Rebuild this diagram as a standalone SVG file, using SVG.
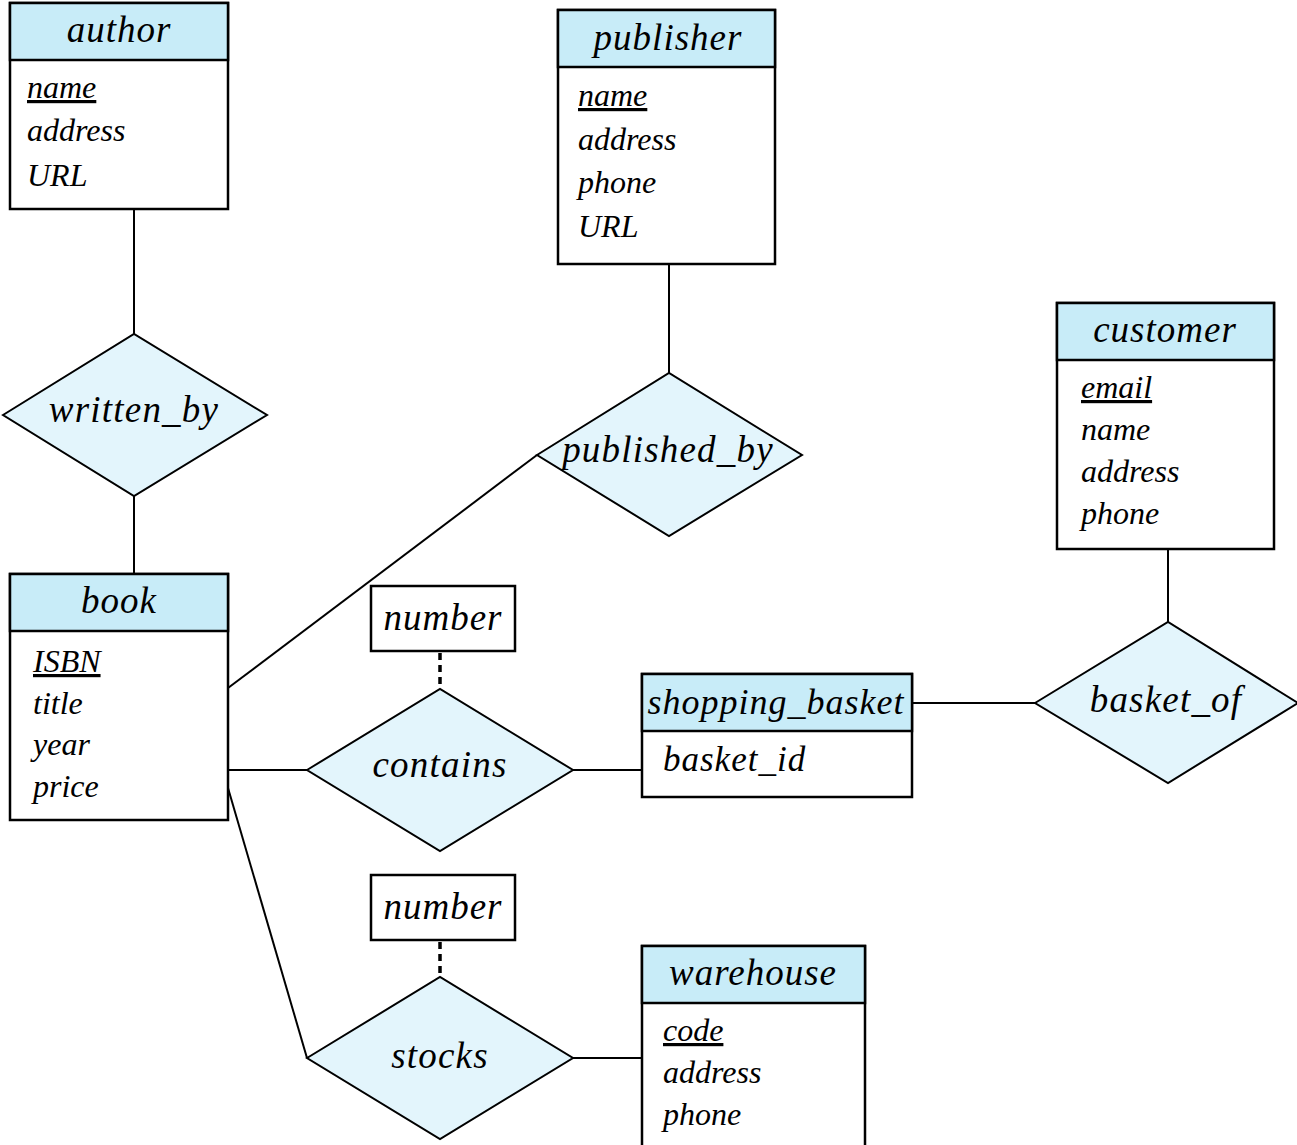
<svg xmlns="http://www.w3.org/2000/svg" width="1297" height="1145" viewBox="0 0 1297 1145">
<style>
text{font-family:"Liberation Serif","DejaVu Serif",serif;font-style:italic;fill:#000}
.hd{font-size:37px;letter-spacing:1px;text-anchor:middle}
.at{font-size:32px}
.rl{font-size:37px;letter-spacing:1.2px;text-anchor:middle}
.box{fill:#fff;stroke:#000;stroke-width:2.5}
.hdr{fill:#c8ecf8;stroke:#000;stroke-width:2.5}
.dia{fill:#e3f5fc;stroke:#000;stroke-width:2}
.ln{stroke:#000;stroke-width:2;fill:none}
.dot{stroke:#000;stroke-width:3.5;stroke-dasharray:7 5;fill:none}
.u{text-decoration:underline}
</style>
<rect width="1297" height="1145" fill="#fff"/>
<g id="connectors">
<line class="ln" x1="134" y1="209" x2="134" y2="334"/>
<line class="ln" x1="134" y1="496" x2="134" y2="574"/>
<line class="ln" x1="669" y1="264" x2="669" y2="373"/>
<line class="ln" x1="228" y1="688" x2="537" y2="455"/>
<line class="ln" x1="228" y1="770" x2="307" y2="770"/>
<line class="ln" x1="573" y1="770" x2="642" y2="770"/>
<line class="ln" x1="912" y1="703" x2="1035" y2="703"/>
<line class="ln" x1="1168" y1="549" x2="1168" y2="622"/>
<line class="ln" x1="228" y1="788" x2="307" y2="1058"/>
<line class="ln" x1="573" y1="1058" x2="642" y2="1058"/>
<line class="dot" x1="440" y1="653" x2="440" y2="689"/>
<line class="dot" x1="440" y1="942" x2="440" y2="977"/>
</g>
<g id="author">
<rect class="box" x="10" y="3" width="218" height="206"/>
<rect class="hdr" x="10" y="3" width="218" height="57"/>
<text class="hd" x="119" y="42">author</text>
<text class="at u" x="27" y="98">name</text>
<text class="at" x="27" y="141">address</text>
<text class="at" x="27" y="186">URL</text>
</g>
<g id="publisher">
<rect class="box" x="558" y="10" width="217" height="254"/>
<rect class="hdr" x="558" y="10" width="217" height="57"/>
<text class="hd" x="668" y="50">publisher</text>
<text class="at u" x="578" y="106">name</text>
<text class="at" x="578" y="150">address</text>
<text class="at" x="578" y="193">phone</text>
<text class="at" x="578" y="237">URL</text>
</g>
<g id="customer">
<rect class="box" x="1057" y="303" width="217" height="246"/>
<rect class="hdr" x="1057" y="303" width="217" height="57"/>
<text class="hd" x="1165" y="342">customer</text>
<text class="at u" x="1081" y="398">email</text>
<text class="at" x="1081" y="440">name</text>
<text class="at" x="1081" y="482">address</text>
<text class="at" x="1081" y="524">phone</text>
</g>
<g id="book">
<rect class="box" x="10" y="574" width="218" height="246"/>
<rect class="hdr" x="10" y="574" width="218" height="57"/>
<text class="hd" x="119" y="613">book</text>
<text class="at u" x="33" y="672">ISBN</text>
<text class="at" x="33" y="714">title</text>
<text class="at" x="33" y="755">year</text>
<text class="at" x="33" y="797">price</text>
</g>
<g id="shopping_basket">
<rect class="box" x="642" y="674" width="270" height="123"/>
<rect class="hdr" x="642" y="674" width="270" height="57"/>
<text class="hd" x="776" y="714" style="font-size:36px">shopping_basket</text>
<text class="at" x="663" y="771" style="font-size:35px;letter-spacing:1px">basket_id</text>
</g>
<g id="warehouse">
<rect class="box" x="642" y="946" width="223" height="210"/>
<rect class="hdr" x="642" y="946" width="223" height="57"/>
<text class="hd" x="753" y="985">warehouse</text>
<text class="at u" x="663" y="1041">code</text>
<text class="at" x="663" y="1083">address</text>
<text class="at" x="663" y="1125">phone</text>
</g>
<g id="number1">
<rect class="box" x="371" y="586" width="144" height="65"/>
<text class="hd" x="443" y="630">number</text>
</g>
<g id="number2">
<rect class="box" x="371" y="875" width="144" height="65"/>
<text class="hd" x="443" y="919">number</text>
</g>
<g id="written_by">
<polygon class="dia" points="3,415 134,334 267,415 134,496"/>
<text class="rl" x="134" y="422">written_by</text>
</g>
<g id="published_by">
<polygon class="dia" points="537,455 669,373 802,455 669,536"/>
<text class="rl" x="668" y="462">published_by</text>
</g>
<g id="basket_of">
<polygon class="dia" points="1035,703 1168,622 1298,703 1168,783"/>
<text class="rl" x="1166" y="712">basket_of</text>
</g>
<g id="contains">
<polygon class="dia" points="307,770 440,689 573,770 440,851"/>
<text class="rl" x="440" y="777">contains</text>
</g>
<g id="stocks">
<polygon class="dia" points="307,1058 440,977 573,1058 440,1139"/>
<text class="rl" x="440" y="1068">stocks</text>
</g>
</svg>
